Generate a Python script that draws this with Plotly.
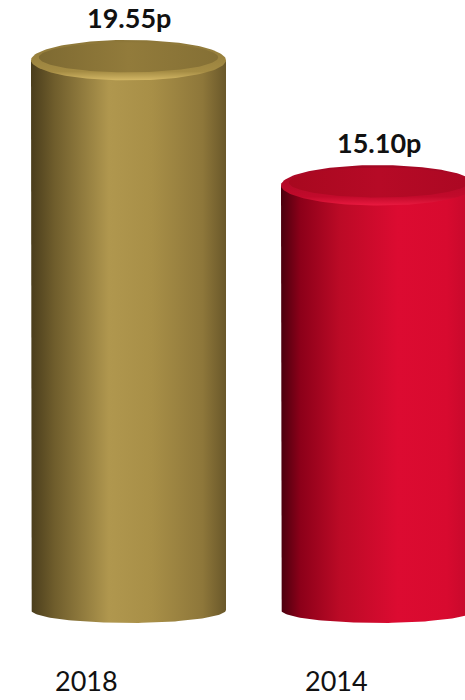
import numpy as np
import plotly.graph_objects as go

# ---- data ----
years = ["2018", "2014"]
values = [19.55, 15.10]
value_labels = ["19.55p", "15.10p"]

# ---- styles ----
body_scales = [
    [[0, "#4a3d1c"], [0.12, "#6f5d2c"], [0.4, "#b0974e"], [0.62, "#a88f47"], [0.88, "#8e773a"], [1, "#6a582a"]],
    [[0, "#4a000e"], [0.1, "#8c0019"], [0.3, "#bb0a26"], [0.6, "#dc0b31"], [0.85, "#d80a2f"], [1, "#c0082a"]],
]
rim_scales = [
    [[0, "#d4b866"], [0.22, "#a58c44"], [1, "#8c7638"]],
    [[0, "#ea1a40"], [0.22, "#c20a2b"], [1, "#a20823"]],
]
inner_scales = [
    [[0, "#7e6a32"], [0.5, "#927b3b"], [1, "#857035"]],
    [[0, "#a8081f"], [0.5, "#b60a26"], [1, "#ac0823"]],
]

half_w = 0.39      # cylinder half width in x units
ry_top = 0.72      # top ellipse half-height in y units
ry_bot = 0.46      # bottom ellipse half-height in y units

fig = go.Figure()
t = np.linspace(0, np.pi, 80)
tt = np.linspace(0, 2 * np.pi, 160)

for i, v in enumerate(values):
    cx = i
    # body: rectangle + front half of bottom ellipse
    bx = list(cx - half_w * np.cos(t))
    by = list(0 - ry_bot * np.sin(t))
    xs = [cx - half_w] + bx + [cx + half_w, cx - half_w]
    ys = [v] + by + [v, v]
    fig.add_trace(go.Scatter(x=xs, y=ys, mode="lines", fill="toself", line=dict(width=0),
                             fillgradient=dict(type="horizontal", colorscale=body_scales[i]),
                             hoverinfo="skip", showlegend=False))
    # top rim ellipse
    ex = cx + half_w * np.cos(tt)
    ey = v + ry_top * np.sin(tt)
    fig.add_trace(go.Scatter(x=ex, y=ey, mode="lines", fill="toself", line=dict(width=0),
                             fillgradient=dict(type="vertical", colorscale=rim_scales[i]),
                             hoverinfo="skip", showlegend=False))
    # inner flat top
    ix = cx + half_w * 0.92 * np.cos(tt)
    iy = v + ry_top * 0.14 + ry_top * 0.74 * np.sin(tt)
    fig.add_trace(go.Scatter(x=ix, y=iy, mode="lines", fill="toself", line=dict(width=0),
                             fillgradient=dict(type="horizontal", colorscale=inner_scales[i]),
                             hoverinfo="skip", showlegend=False))
    # value label
    fig.add_annotation(x=cx, y=v, text="<b>" + value_labels[i] + "</b>", showarrow=False,
                       yanchor="middle", yshift=43,
                       font=dict(family="Lato, sans-serif", size=27, color="#111111"))
    # year label (offset left as in the original)
    fig.add_annotation(x=cx - 0.168, y=-2.5, text=years[i], showarrow=False,
                       yanchor="middle",
                       font=dict(family="Lato, sans-serif", size=27, color="#111111"))

fig.update_layout(
    width=465, height=700,
    margin=dict(l=0, r=0, t=0, b=0),
    paper_bgcolor="white", plot_bgcolor="white",
    xaxis=dict(range=[-0.514, 1.346], visible=False, fixedrange=True),
    yaxis=dict(range=[-3.2, 21.69], visible=False, fixedrange=True),
)

fig.write_html("out.html")
